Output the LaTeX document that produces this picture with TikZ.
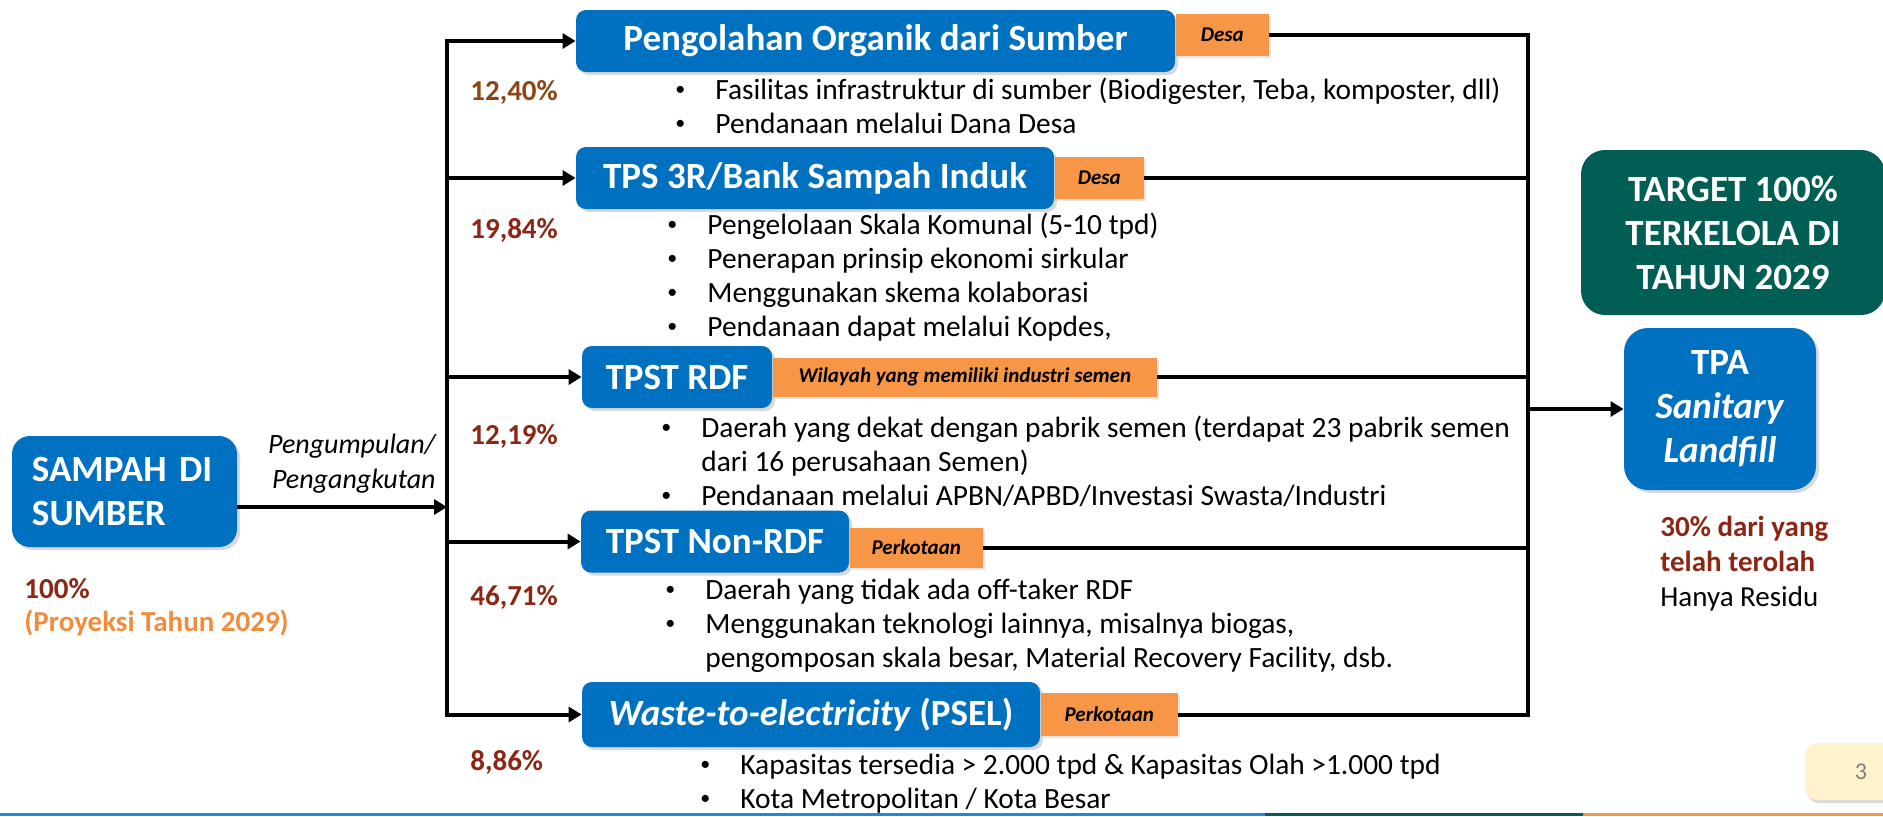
\documentclass[tikz,border=0pt]{standalone}
\usepackage{fontspec}
\setmainfont{Carlito}
\usetikzlibrary{positioning, arrows.meta, shadows}
\definecolor{boxblue}{RGB}{0,112,192}
\definecolor{tagorange}{RGB}{247,150,70}
\definecolor{targetgreen}{RGB}{0,94,84}
\definecolor{pctred}{RGB}{140,38,20}
\definecolor{pctbrown}{RGB}{140,70,22}
\definecolor{projorange}{RGB}{240,140,60}
\definecolor{pageyellow}{RGB}{255,242,204}
\definecolor{stripblue}{RGB}{30,136,229}

\newcommand{\itm}{\makebox[21pt][l]{\hspace{1pt}\raisebox{1.6pt}{\fontsize{10}{10}\selectfont\textbullet}}}
\newcommand{\cnt}{\hspace*{21pt}}

\begin{document}
\begin{tikzpicture}[x=0.5pt, y=-0.5pt,
  headfont/.style={font=\fontsize{18.5}{22}\selectfont\bfseries},
  bodyfont/.style={font=\fontsize{14.7}{17}\selectfont},
  stage/.style={headfont, fill=boxblue, text=white, rounded corners=5pt,
    minimum height=31pt, inner sep=0pt,
    drop shadow={opacity=.3, shadow xshift=1.5pt, shadow yshift=-1.5pt}},
  area/.style={fill=tagorange, font=\fontsize{10.5}{12}\selectfont\bfseries\itshape,
    minimum height=21pt, inner sep=0pt,
    drop shadow={opacity=.2, shadow xshift=1pt, shadow yshift=-1pt}},
  pct/.style={font=\fontsize{14.5}{17}\selectfont\bfseries, text=pctred,
    anchor=base west, inner sep=0pt},
  pts/.style={bodyfont, anchor=base west, inner sep=0pt},
  wire/.style={line width=2pt},
  arr/.style={wire, -{Triangle[length=6.5pt,width=7.5pt]}}
]
\useasboundingbox (0,0) rectangle (1883,816);

% source
\node[stage, rounded corners=9pt, minimum width=112.5pt, minimum height=55.5pt,
  text width=92.5pt, align=left] (sampah) at (124.5,491.5) {SAMPAH DI\\SUMBER};
\node[pct, align=left] (total) at (24,598)
  {\fontsize{14.5}{16.5}\selectfont\begin{tabular}[t]{@{}l@{}}100\%\\
   \textcolor{projorange}{(Proyeksi Tahun 2029)}\end{tabular}};
\node[anchor=base east, inner sep=0pt, font=\fontsize{14}{17.5}\selectfont\itshape] (haul)
  at (436,453) {\begin{tabular}[t]{@{}r@{}}Pengumpulan/\\Pengangkutan\end{tabular}};

% processing stages
\node[stage, minimum width=299.5pt] (org) at (875.5,41) {Pengolahan Organik dari Sumber};
\node[area, minimum width=46.5pt, right=0pt of org, yshift=3pt] (orgarea) {Desa};
\node[stage, minimum width=239pt] (tps) at (815,178) {TPS 3R/Bank Sampah Induk};
\node[area, minimum width=44.5pt, right=0pt of tps] (tpsarea) {Desa};
\node[stage, minimum width=95pt] (rdf) at (677,377) {TPST RDF};
\node[area, minimum width=192pt, minimum height=19.5pt, right=0pt of rdf] (rdfarea)
  {Wilayah yang memiliki industri semen};
\node[stage, minimum width=134pt] (nonrdf) at (715,541.5) {TPST Non-RDF};
\node[area, minimum width=66.5pt, minimum height=20pt, right=0pt of nonrdf, yshift=-3pt]
  (nonrdfarea) {Perkotaan};
\node[stage, minimum width=229pt, minimum height=32.5pt] (psel) at (811,714.5)
  {\textit{Waste-to-electricity} (PSEL)};
\node[area, minimum width=68.5pt, minimum height=21.5pt, right=0pt of psel] (pselarea)
  {Perkotaan};

% shares
\node[pct, text=pctbrown] (p1) at (470,100) {12,40\%};
\node[pct] (p2) at (470,238) {19,84\%};
\node[pct] (p3) at (470,444) {12,19\%};
\node[pct] (p4) at (470,605) {46,71\%};
\node[pct] (p5) at (470,770) {8,86\%};

% notes
\node[pts] (orgpts) at (673,99) {\begin{tabular}[t]{@{}l@{}}
  \itm Fasilitas infrastruktur di sumber (Biodigester, Teba, komposter, dll)\\
  \itm Pendanaan melalui Dana Desa\end{tabular}};
\node[pts] (tpspts) at (665,234) {\begin{tabular}[t]{@{}l@{}}
  \itm Pengelolaan Skala Komunal (5-10 tpd)\\
  \itm Penerapan prinsip ekonomi sirkular\\
  \itm Menggunakan skema kolaborasi\\
  \itm Pendanaan dapat melalui Kopdes,\end{tabular}};
\node[pts] (rdfpts) at (659,437) {\begin{tabular}[t]{@{}l@{}}
  \itm Daerah yang dekat dengan pabrik semen (terdapat 23 pabrik semen\\
  \cnt dari 16 perusahaan Semen)\\
  \itm Pendanaan melalui APBN/APBD/Investasi Swasta/Industri\end{tabular}};
\node[pts] (nonrdfpts) at (663,599) {\begin{tabular}[t]{@{}l@{}}
  \itm Daerah yang tidak ada off-taker RDF\\
  \itm Menggunakan teknologi lainnya, misalnya biogas,\\
  \cnt pengomposan skala besar, Material Recovery Facility, dsb.\end{tabular}};
\node[pts] (pselpts) at (698,774) {\begin{tabular}[t]{@{}l@{}}
  \itm Kapasitas tersedia > 2.000 tpd \& Kapasitas Olah >1.000 tpd\\
  \itm Kota Metropolitan / Kota Besar\end{tabular}};

% target and landfill
\node[headfont, fill=targetgreen, text=white, rounded corners=12pt, minimum width=152pt,
  minimum height=82.5pt, align=center] (target) at (1733,232.5)
  {TARGET 100\%\\TERKELOLA DI\\TAHUN 2029};
\node[stage, rounded corners=12pt, minimum width=96pt, minimum height=81pt, align=center]
  (tpa) at (1720,409) {TPA\\\textit{Sanitary}\\\textit{Landfill}};
\node[pts] (residu) at (1660,536) {\fontsize{14.5}{17.5}\selectfont
  \begin{tabular}[t]{@{}l@{}}\textcolor{pctred}{\bfseries 30\% dari yang}\\
  \textcolor{pctred}{\bfseries telah terolah}\\Hanya Residu\end{tabular}};

% connectors
\coordinate (split) at (447,507);
\coordinate (merge) at (1528,409);
\draw[arr] (sampah.east |- split) -- (split);
\draw[wire, line cap=rect] (split |- org.west) -- (split |- psel.west);
\foreach \s in {org,tps,rdf,nonrdf,psel}
  \draw[arr] (split |- \s.west) -- (\s.west);
\draw[wire] (orgarea.east) -| (merge |- pselarea.east) -- (pselarea.east);
\foreach \s in {tpsarea,rdfarea,nonrdfarea}
  \draw[wire] (\s.east) -- (merge |- \s.east);
\draw[arr] (merge) -- (tpa.west);

% page footer
\node[fill=pageyellow, rounded corners=6pt, minimum width=50pt, minimum height=28.5pt,
  text=gray, font=\fontsize{12}{14}\selectfont,
  drop shadow={opacity=.3, shadow xshift=1pt, shadow yshift=-1.5pt}] (page)
  at (1855,771.5) {\hspace{6pt}3};
\fill[stripblue] (0,813) rectangle (1265,816);
\fill[targetgreen] (1265,813) rectangle (1583,816);
\fill[tagorange] (1583,813) rectangle (1883,816);
\end{tikzpicture}
\end{document}
